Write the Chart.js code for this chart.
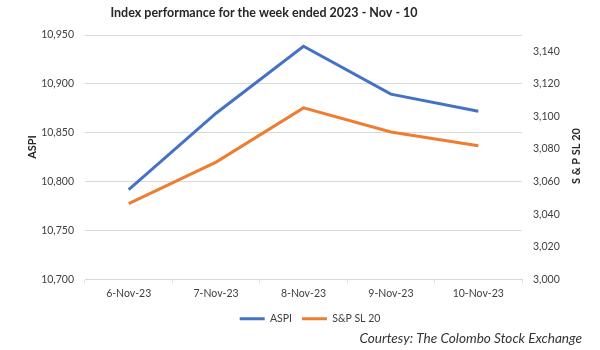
<!DOCTYPE html>
<html>
<head>
<meta charset="utf-8">
<script src="https://cdn.jsdelivr.net/npm/chart.js@4/dist/chart.umd.min.js"></script>
<style>
  html, body { margin: 0; padding: 0; background: #fff; }
  #wrap { width: 600px; height: 350px; position: relative; }
</style>
</head>
<body>
<div id="wrap"><canvas id="grafico" width="600" height="350"></canvas></div>
<script>
const days = ['6-Nov-23', '7-Nov-23', '8-Nov-23', '9-Nov-23', '10-Nov-23'];
const aspiValues = [10792, 10870, 10938.5, 10889.5, 10872];
const spValues = [3046.5, 3072, 3105.3, 3090.5, 3082];

const chartTitle = 'Index performance for the week ended 2023 - Nov - 10';
const leftTitle = 'ASPI';
const rightTitle = 'S & P SL 20';
const sourceNote = 'Courtesy: The Colombo Stock Exchange';

const FONT = 'Lato, "Open Sans", sans-serif';

// titles and note placed by hand, the way the original sits
const extraText = {
    id: 'extraText',
    afterDraw(chart) {
        const ctx = chart.ctx;
        ctx.save();
        ctx.fillStyle = '#262626';
        ctx.textAlign = 'center';
        ctx.textBaseline = 'middle';
        ctx.font = 'bold 12.5px ' + FONT;
        ctx.fillText(chartTitle, 264, 13);

        ctx.font = 'bold 11px ' + FONT;
        ctx.save();
        ctx.translate(32, 147);
        ctx.rotate(-Math.PI / 2);
        ctx.fillText(leftTitle, 0, 0);
        ctx.restore();

        ctx.save();
        ctx.translate(576, 156);
        ctx.rotate(-Math.PI / 2);
        ctx.fillText(rightTitle, 0, 0);
        ctx.restore();

        ctx.font = 'italic 13.6px ' + FONT;
        ctx.fillStyle = '#333333';
        ctx.textAlign = 'right';
        ctx.fillText(sourceNote, 582, 339);
        ctx.restore();
    }
};

const ctx = document.getElementById('grafico').getContext('2d');
const chart = new Chart(ctx, {
    type: 'line',
    data: {
        labels: days,
        datasets: [{
            label: 'ASPI',
            data: aspiValues,
            borderColor: '#4472C4',
            backgroundColor: '#4472C4',
            borderWidth: 3,
            pointRadius: 0,
            tension: 0,
            yAxisID: 'y'
        }, {
            label: 'S&P SL 20',
            data: spValues,
            borderColor: '#ED7D31',
            backgroundColor: '#ED7D31',
            borderWidth: 3,
            pointRadius: 0,
            tension: 0,
            yAxisID: 'y1'
        }]
    },
    options: {
        responsive: false,
        animation: false,
        layout: { padding: { top: 35, bottom: 16, left: 20, right: 0 } },
        scales: {
            x: {
                offset: true,
                grid: { offset: true, drawOnChartArea: false, tickLength: 4, color: '#E3E3E3' },
                border: { color: '#D9D9D9' },
                ticks: { color: '#404040', font: { family: FONT, size: 10.5 }, padding: 4, maxRotation: 0 },
                afterFit(scale) { scale.height = 24; }
            },
            y: {
                position: 'left',
                min: 10700,
                max: 10950,
                ticks: {
                    stepSize: 50,
                    color: '#404040',
                    font: { family: FONT, size: 10.5 },
                    padding: 11,
                    callback: v => v.toLocaleString('en-US')
                },
                grid: { color: '#D9D9D9', drawTicks: false },
                border: { display: false },
                afterFit(scale) { scale.width = 65; }
            },
            y1: {
                position: 'right',
                min: 3000,
                max: 3150,
                ticks: {
                    stepSize: 20,
                    includeBounds: false,
                    color: '#404040',
                    font: { family: FONT, size: 10.5 },
                    padding: 11,
                    callback: v => v.toLocaleString('en-US')
                },
                grid: { drawOnChartArea: false, drawTicks: false },
                border: { display: false },
                afterFit(scale) { scale.width = 78; }
            }
        },
        plugins: {
            legend: {
                position: 'bottom',
                labels: {
                    usePointStyle: true,
                    pointStyle: 'line',
                    pointStyleWidth: 25,
                    color: '#404040',
                    font: { family: FONT, size: 10.5 },
                    padding: 10
                }
            },
            tooltip: { enabled: false }
        }
    },
    plugins: [extraText]
});
</script>
</body>
</html>
